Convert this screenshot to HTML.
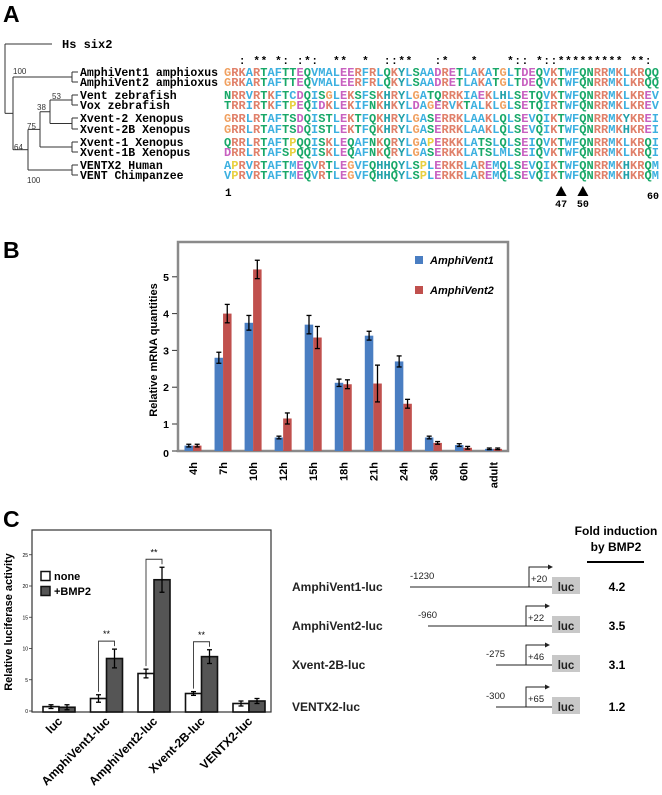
<!DOCTYPE html>
<html><head><meta charset="utf-8"><style>
html,body{margin:0;padding:0;background:#fff;}
svg{display:block;font-family:"Liberation Sans",sans-serif;}
</style></head><body>
<svg id="fig" width="662" height="795" viewBox="0 0 662 795" xmlns="http://www.w3.org/2000/svg">
<text x="3" y="22" font-size="23" font-weight="bold">A</text>
<text x="3" y="258" font-size="23" font-weight="bold">B</text>
<text x="3" y="527" font-size="23" font-weight="bold">C</text>
<g id="tree" stroke="#333" stroke-width="1" fill="none"></g>
<g id="align"></g>
<g id="chartB"></g>
<g id="chartC"></g>
<g id="constructs"></g>
</svg>
<script>
const NS="http://www.w3.org/2000/svg";
function mk(parent,tag,attrs,text){const e=document.createElementNS(NS,tag);for(const k in attrs)e.setAttribute(k,attrs[k]);if(text!==undefined)e.textContent=text;parent.appendChild(e);return e;}

/* ---------- Panel A ---------- */
const seqNames=["AmphiVent1 amphioxus","AmphiVent2 amphioxus","Vent zebrafish","Vox zebrafish","Xvent-2 Xenopus","Xvent-2B Xenopus","Xvent-1 Xenopus","Xvent-1B Xenopus","VENTX2 Human","VENT Chimpanzee"];
const seqs=[
"GRKARTAFTTEQVMALEERFRLQKYLSAADRETLAKATGLTDEQVKTWFQNRRMKLKRQQ",
"GRKARTAFTTEQVMALEERFRLQKYLSAADRETLAKATGLTDEQVKTWFQNRRMKLKRQQ",
"NRRVRTKFTCDQISGLEKSFSKHRYLGATQRRKIAEKLHLSETQVKTWFQNRRMKLKREV",
"TRRIRTKFTPEQIDKLEKIFNKHKYLDAGERVKTALKLGLSETQIRTWFQNRRMKLKREV",
"GRRLRTAFTSDQISTLEKTFQKHRYLGASERRKLAAKLQLSEVQIKTWFQNRRMKYKREI",
"GRRLRTAFTSDQISTLEKTFQKHRYLGASERRKLAAKLQLSEVQIKTWFQNRRMKHKREI",
"QRRLRTAFTPQQISKLEQAFNKQRYLGAPERKKLATSLQLSEIQVKTWFQNRRMKLKRQI",
"DRRLRTAFSPQQISKLEQAFNKQRYLGASERKKLATSLMLSEIQVKTWFQNRRMKLKRQI",
"APRVRTAFTMEQVRTLEGVFQHHQYLSPLERKRLAREMQLSEVQIKTWFQNRRMKHKRQM",
"VPRVRTAFTMEQVRTLEGVFQHHQYLSPLERKRLAREMQLSEVQIKTWFQNRRMKHKRQM"];
const rowY=[76,86,99,109,122,133,146,156,169,179];
const tree=document.getElementById('tree');
function L(x1,y1,x2,y2){const e=mk(tree,'line',{x1,y1,x2,y2});}
[[0,1],[2,3],[4,5],[6,7],[8,9]].forEach(p=>{L(72,rowY[p[0]]-4,72,rowY[p[1]]-4);L(72,rowY[p[0]]-4,78,rowY[p[0]]-4);L(72,rowY[p[1]]-4,78,rowY[p[1]]-4);});
const nA=(rowY[0]+rowY[1])/2-4,nZ=(rowY[2]+rowY[3])/2-4,nX2=(rowY[4]+rowY[5])/2-4,nX1=(rowY[6]+rowY[7])/2-4,nH=(rowY[8]+rowY[9])/2-4;
L(50,nZ,72,nZ);L(50,nX2,72,nX2);L(50,nZ,50,nX2);const n38=(nZ+nX2)/2;
L(40,n38,50,n38);L(40,nX1,72,nX1);L(40,n38,40,nX1);const n75=(n38+nX1)/2;
L(28,n75,40,n75);L(28,nH,72,nH);L(28,n75,28,nH);const n64=(n75+nH)/2;
L(13,nA,72,nA);L(13,n64,28,n64);L(13,nA,13,n64);const nX=(nA+n64)/2;
L(5,44,5,nX);L(5,44,52,44);L(5,nX,13,nX);
mk(tree,'text',{x:62,y:48,'font-family':'Liberation Mono, monospace','font-size':12,'font-weight':'bold',fill:'#000',stroke:'none',},'Hs six2');
[[13,74,'100'],[52,99,'53'],[37,110,'38'],[27,129,'75'],[14,150,'64'],[27,183,'100']].forEach(b=>{const t=mk(tree,'text',{x:b[0],y:b[1],'font-size':8,fill:'#333',stroke:'none'},b[2]);});

const al=document.getElementById('align');
const col={A:'#3cb0e0',I:'#3cb0e0',L:'#3cb0e0',M:'#3cb0e0',F:'#3cb0e0',W:'#3cb0e0',V:'#3cb0e0',C:'#3cb0e0',K:'#e0806a',R:'#e0806a',E:'#c860c0',D:'#c860c0',N:'#18a868',Q:'#18a868',S:'#18a868',T:'#18a868',G:'#f0a060',P:'#e8d040',H:'#20a0a8',Y:'#20a0a8'};
const X0=224,DX=7.25;
seqNames.forEach((n,i)=>{const t=mk(al,'text',{x:80,y:rowY[i],'font-family':'Liberation Mono, monospace','font-size':11.5,'font-weight':'bold'},n);});
seqs.forEach((s,i)=>{for(let j=0;j<s.length;j++){const c=s[j];mk(al,'text',{x:X0+DX*j+DX/2,y:rowY[i],'text-anchor':'middle','font-family':'Liberation Mono, monospace','font-size':12,'font-weight':'bold',fill:col[c]||'#000'},c);}});
const groups=["STA","NEQK","NHQK","NDEQ","QHRK","MILV","MILF","HY","FYW"];
let cons="";
for(let j=0;j<60;j++){const set=new Set(seqs.map(s=>s[j]));const arr=[...set];if(arr.length===1)cons+="*";else if(groups.some(g=>arr.every(a=>g.includes(a))))cons+=":";else cons+=" ";}
for(let j=0;j<60;j++){if(cons[j]!==" ")mk(al,'text',{x:X0+DX*j+DX/2,y:64,'text-anchor':'middle','font-family':'Liberation Mono, monospace','font-size':11,'font-weight':'bold'},cons[j]);}
mk(al,'text',{x:X0+1,y:196,'font-family':'Liberation Mono, monospace','font-size':11,'font-weight':'bold'},'1');
mk(al,'text',{x:659,y:199,'text-anchor':'end','font-family':'Liberation Mono, monospace','font-size':10,'font-weight':'bold'},'60');
[47,50].forEach(p=>{const cx=X0+DX*(p-1)+DX/2;const a=mk(al,'polygon',{points:`${cx},186 ${cx-5.5},196 ${cx+5.5},196`,fill:'#000'});mk(al,'text',{x:cx,y:207,'text-anchor':'middle','font-family':'Liberation Mono, monospace','font-size':10,'font-weight':'bold'},String(p));});

/* ---------- Panel B ---------- */
const timeLabels=["4h","7h","10h","12h","15h","18h","21h","24h","36h","60h","adult"];
const v1Vals=[0.2,2.8,3.75,0.5,3.7,2.12,3.4,2.7,0.5,0.22,0.08];
const v1Err=[0.05,0.15,0.2,0.05,0.25,0.1,0.12,0.15,0.05,0.05,0.03];
const v2Vals=[0.2,4.0,5.2,1.15,3.35,2.08,2.1,1.55,0.3,0.12,0.08];
const v2Err=[0.05,0.25,0.25,0.15,0.3,0.12,0.5,0.12,0.05,0.05,0.03];
const bTicks=[0,1,2,3,4,5];
const B=document.getElementById('chartB');
function yB(v){return v<1?451-27*v:424-36.8*(v-1);}
function xB(i){return 193+30.05*i;}
const fr=mk(B,'rect',{x:178,y:242,width:330,height:209,fill:'none',stroke:'#8a8a8a','stroke-width':2.5});

bTicks.forEach(t=>{const y=t===0?453:yB(t);mk(B,'line',{x1:172,y1:yB(t),x2:177,y2:yB(t),stroke:'#333'});const e=mk(B,'text',{x:169,y:y+4,'text-anchor':'end','font-size':10.5,'font-weight':'bold'},String(t));});
const yt=mk(B,'text',{transform:'translate(157,350) rotate(-90)','text-anchor':'middle','font-size':11,'font-weight':'bold'},'Relative mRNA quantities');

function errBar(g,x,v,e,yf){const t=yf(v+e),b=yf(Math.max(0,v-e));mk(g,'line',{x1:x,y1:t,x2:x,y2:b,stroke:'#000','stroke-width':1.3});mk(g,'line',{x1:x-2.5,y1:t,x2:x+2.5,y2:t,stroke:'#000','stroke-width':1.3});mk(g,'line',{x1:x-2.5,y1:b,x2:x+2.5,y2:b,stroke:'#000','stroke-width':1.3});}
timeLabels.forEach((lab,i)=>{const c=xB(i);
 const b1=mk(B,'rect',{x:c-8.5,y:yB(v1Vals[i]),width:8.5,height:451-yB(v1Vals[i]),fill:'#4a7ec2'});
 
 const b2=mk(B,'rect',{x:c,y:yB(v2Vals[i]),width:8.5,height:451-yB(v2Vals[i]),fill:'#c0504d'});
 
 errBar(B,c-4.2,v1Vals[i],v1Err[i],yB);errBar(B,c+4.2,v2Vals[i],v2Err[i],yB);
 const t=mk(B,'text',{transform:`translate(${c+4},462) rotate(-90)`,'text-anchor':'end','font-size':11,'font-weight':'bold'},lab);
 });
[[260,'#4a7ec2','AmphiVent1'],[290,'#c0504d','AmphiVent2']].forEach(l=>{const g=mk(B,'g',{});mk(g,'rect',{x:415,y:l[0]-4,width:8,height:8,fill:l[1]});mk(g,'text',{x:430,y:l[0]+4,'font-size':11,'font-weight':'bold','font-style':'italic'},l[2]);});

/* ---------- Panel C ---------- */
const cCats=["luc","AmphiVent1-luc","AmphiVent2-luc","Xvent-2B-luc","VENTX2-luc"];
const noneVals=[0.7,2.0,6.0,2.8,1.2];
const noneErr=[0.3,0.6,0.7,0.3,0.4];
const bmpVals=[0.6,8.4,21.0,8.7,1.6];
const bmpErr=[0.4,1.5,2.0,1.1,0.4];
const cTicks=[0,5,10,15,20,25];
const sigIdx=[1,2,3];
const C=document.getElementById('chartC');
function yC(v){return 711-6.25*v;}
function xC(i){return 59+47.5*i;}
const fc=mk(C,'rect',{x:32,y:530,width:239,height:182,fill:'none',stroke:'#333','stroke-width':1.2});

cTicks.forEach(t=>{mk(C,'line',{x1:29,y1:yC(t),x2:32,y2:yC(t),stroke:'#333','stroke-width':0.8});const e=mk(C,'text',{x:28,y:yC(t)+2,'text-anchor':'end','font-size':5},String(t));});
const yc=mk(C,'text',{transform:'translate(12,622) rotate(-90)','text-anchor':'middle','font-size':11,'font-weight':'bold'},'Relative luciferase activity');

cCats.forEach((lab,i)=>{const c=xC(i);
 const w=mk(C,'rect',{x:c-16,y:yC(noneVals[i]),width:16,height:712-yC(noneVals[i]),fill:'#fff',stroke:'#111','stroke-width':1.6});
 
 const d=mk(C,'rect',{x:c,y:yC(bmpVals[i]),width:16,height:712-yC(bmpVals[i]),fill:'#555',stroke:'#111','stroke-width':1.6});
 
 errBar(C,c-8,noneVals[i],noneErr[i],yC);errBar(C,c+8,bmpVals[i],bmpErr[i],yC);
 const t=mk(C,'text',{transform:`translate(${c+4},722) rotate(-45)`,'text-anchor':'end','font-size':12,'font-weight':'bold'},lab);
 });
sigIdx.forEach(i=>{const c=xC(i);const top=yC(bmpVals[i]+bmpErr[i])-8;
 const g=mk(C,'g',{});
 mk(g,'polyline',{points:`${c-8},${yC(noneVals[i]+noneErr[i])-3} ${c-8},${top} ${c+8},${top} ${c+8},${yC(bmpVals[i]+bmpErr[i])-3}`,fill:'none',stroke:'#333','stroke-width':0.9});
 mk(g,'text',{x:c,y:top-4,'text-anchor':'middle','font-size':9},'**');});
[[576,'#fff','none'],[591,'#555','+BMP2']].forEach(l=>{const g=mk(C,'g',{});mk(g,'rect',{x:41,y:l[0]-4.5,width:9,height:9,fill:l[1],stroke:'#111','stroke-width':1.5});mk(g,'text',{x:54,y:l[0]+4,'font-size':11,'font-weight':'bold'},l[2]);});

/* constructs */
const K=document.getElementById('constructs');
const conNames=["AmphiVent1-luc","AmphiVent2-luc","Xvent-2B-luc","VENTX2-luc"];
const conY=[587,626,665,707];
const conStart=[410,428,496,496];
const conStartLab=["-1230","-960","-275","-300"];
const conEndLab=["+20","+22","+46","+65"];
const conArrowX=[529,526,526,526];
const foldVals=["4.2","3.5","3.1","1.2"];
const h1=mk(K,'text',{x:616,y:535,'text-anchor':'middle','font-size':12,'font-weight':'bold'},'Fold induction');

mk(K,'text',{x:616,y:551,'text-anchor':'middle','font-size':12,'font-weight':'bold'},'by BMP2');
mk(K,'line',{x1:587,y1:562,x2:644,y2:562,stroke:'#000','stroke-width':2});
conNames.forEach((n,i)=>{const y=conY[i];
 const g=mk(K,'g',{});
 mk(g,'text',{x:292,y:y+4,'font-size':12,'font-weight':'bold',fill:'#222'},n);
 mk(g,'line',{x1:conStart[i],y1:y,x2:552,y2:y,stroke:'#222','stroke-width':1});
 mk(g,'text',{x:conStart[i]+(i===0?0:-10),y:y-8,'font-size':9.5,fill:'#222'},conStartLab[i]);
 const ax=conArrowX[i];mk(g,'polyline',{points:`${ax},${y} ${ax},${y-20} ${ax+22},${y-20}`,fill:'none',stroke:'#222','stroke-width':1});
 mk(g,'polygon',{points:`${ax+24},${y-20} ${ax+19},${y-22.5} ${ax+19},${y-17.5}`,fill:'#222'});
 mk(g,'text',{x:ax+2,y:y-5,'font-size':9.5,fill:'#222'},conEndLab[i]);
 mk(g,'rect',{x:552,y:y-10,width:28,height:17,fill:'#c8c8c8'});
 mk(g,'text',{x:566,y:y+4,'text-anchor':'middle','font-size':11.5,'font-weight':'bold',fill:'#222'},'luc');
 const f=mk(K,'text',{x:617,y:y+4,'text-anchor':'middle','font-size':12,'font-weight':'bold'},foldVals[i]);
 });
</script>
</body></html>
